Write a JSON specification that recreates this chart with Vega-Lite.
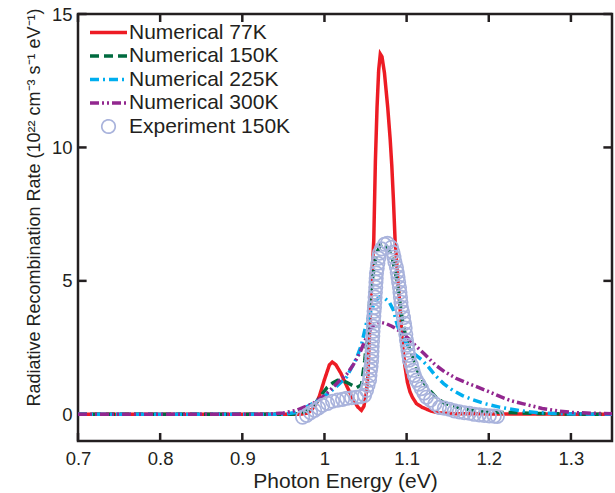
{
 "$schema": "https://vega.github.io/schema/vega-lite/v6.json",
 "width": 534, "height": 427,
 "autosize": {"type": "none"},
 "padding": {"left": 78, "top": 14, "right": 3, "bottom": 52},
 "background": "white",
 "config": {
  "view": {"stroke": "#231f20", "strokeWidth": 2.5},
  "font": "Liberation Sans",
  "axis": {"grid": false, "domain": false, "ticks": false,
   "labelColor": "#231f20", "labelFont": "Liberation Sans", "labelFontSize": 18.5,
   "titleFont": "Liberation Sans", "titleFontSize": 21, "titleFontWeight": "normal", "titleColor": "#231f20"}
 },
 "datasets": {
  "xticks": [{"x":0.7},{"x":0.8},{"x":0.9},{"x":1.0},{"x":1.1},{"x":1.2},{"x":1.3}],
  "yticks": [{"y":0},{"y":5},{"y":10},{"y":15}],
  "lines": [
   {"s":"Numerical 77K","x":0.70,"y":0},{"s":"Numerical 77K","x":0.97,"y":0},{"s":"Numerical 77K","x":0.98,"y":0.05},{"s":"Numerical 77K","x":0.985,"y":0.2},{"s":"Numerical 77K","x":0.99,"y":0.4},{"s":"Numerical 77K","x":0.994,"y":0.7},{"s":"Numerical 77K","x":1.0,"y":1.3},{"s":"Numerical 77K","x":1.006,"y":1.85},{"s":"Numerical 77K","x":1.0095,"y":1.96},{"s":"Numerical 77K","x":1.014,"y":1.85},{"s":"Numerical 77K","x":1.02,"y":1.54},{"s":"Numerical 77K","x":1.025,"y":1.2},{"s":"Numerical 77K","x":1.0305,"y":0.84},{"s":"Numerical 77K","x":1.036,"y":0.5},{"s":"Numerical 77K","x":1.0407,"y":0.27},{"s":"Numerical 77K","x":1.045,"y":0.15},{"s":"Numerical 77K","x":1.048,"y":0.3},{"s":"Numerical 77K","x":1.051,"y":0.8},{"s":"Numerical 77K","x":1.053,"y":1.5},{"s":"Numerical 77K","x":1.056,"y":4.0},{"s":"Numerical 77K","x":1.058,"y":5.3},{"s":"Numerical 77K","x":1.06,"y":6.5},{"s":"Numerical 77K","x":1.061,"y":8.0},{"s":"Numerical 77K","x":1.062,"y":9.5},{"s":"Numerical 77K","x":1.064,"y":11.5},{"s":"Numerical 77K","x":1.066,"y":12.9},{"s":"Numerical 77K","x":1.068,"y":13.5},{"s":"Numerical 77K","x":1.07,"y":13.4},{"s":"Numerical 77K","x":1.073,"y":12.8},{"s":"Numerical 77K","x":1.077,"y":11.5},{"s":"Numerical 77K","x":1.08,"y":10.3},{"s":"Numerical 77K","x":1.082,"y":9.3},{"s":"Numerical 77K","x":1.084,"y":8.0},{"s":"Numerical 77K","x":1.086,"y":6.5},{"s":"Numerical 77K","x":1.089,"y":5.2},{"s":"Numerical 77K","x":1.092,"y":4.0},{"s":"Numerical 77K","x":1.095,"y":2.6},{"s":"Numerical 77K","x":1.098,"y":1.8},{"s":"Numerical 77K","x":1.101,"y":1.2},{"s":"Numerical 77K","x":1.104,"y":0.85},{"s":"Numerical 77K","x":1.107,"y":0.64},{"s":"Numerical 77K","x":1.112,"y":0.4},{"s":"Numerical 77K","x":1.119,"y":0.26},{"s":"Numerical 77K","x":1.13,"y":0.12},{"s":"Numerical 77K","x":1.14,"y":0.05},{"s":"Numerical 77K","x":1.16,"y":0.02},{"s":"Numerical 77K","x":1.35,"y":0},
   {"s":"Numerical 150K","x":0.70,"y":0},{"s":"Numerical 150K","x":0.96,"y":0},{"s":"Numerical 150K","x":0.97,"y":0.03},{"s":"Numerical 150K","x":0.98,"y":0.15},{"s":"Numerical 150K","x":0.99,"y":0.45},{"s":"Numerical 150K","x":0.997,"y":0.75},{"s":"Numerical 150K","x":1.003,"y":1.0},{"s":"Numerical 150K","x":1.01,"y":1.17},{"s":"Numerical 150K","x":1.016,"y":1.27},{"s":"Numerical 150K","x":1.022,"y":1.25},{"s":"Numerical 150K","x":1.027,"y":1.2},{"s":"Numerical 150K","x":1.033,"y":1.1},{"s":"Numerical 150K","x":1.039,"y":1.0},{"s":"Numerical 150K","x":1.045,"y":1.1},{"s":"Numerical 150K","x":1.049,"y":2.0},{"s":"Numerical 150K","x":1.052,"y":2.9},{"s":"Numerical 150K","x":1.055,"y":4.2},{"s":"Numerical 150K","x":1.058,"y":5.0},{"s":"Numerical 150K","x":1.063,"y":6.0},{"s":"Numerical 150K","x":1.068,"y":6.35},{"s":"Numerical 150K","x":1.073,"y":6.4},{"s":"Numerical 150K","x":1.078,"y":6.2},{"s":"Numerical 150K","x":1.083,"y":5.8},{"s":"Numerical 150K","x":1.087,"y":5.2},{"s":"Numerical 150K","x":1.091,"y":4.4},{"s":"Numerical 150K","x":1.095,"y":3.5},{"s":"Numerical 150K","x":1.099,"y":2.9},{"s":"Numerical 150K","x":1.103,"y":2.5},{"s":"Numerical 150K","x":1.107,"y":2.2},{"s":"Numerical 150K","x":1.113,"y":1.65},{"s":"Numerical 150K","x":1.118,"y":1.35},{"s":"Numerical 150K","x":1.124,"y":1.05},{"s":"Numerical 150K","x":1.128,"y":0.9},{"s":"Numerical 150K","x":1.137,"y":0.6},{"s":"Numerical 150K","x":1.146,"y":0.42},{"s":"Numerical 150K","x":1.16,"y":0.28},{"s":"Numerical 150K","x":1.173,"y":0.19},{"s":"Numerical 150K","x":1.19,"y":0.12},{"s":"Numerical 150K","x":1.21,"y":0.08},{"s":"Numerical 150K","x":1.25,"y":0.04},{"s":"Numerical 150K","x":1.3,"y":0.01},{"s":"Numerical 150K","x":1.35,"y":0},
   {"s":"Numerical 225K","x":0.70,"y":0},{"s":"Numerical 225K","x":0.95,"y":0},{"s":"Numerical 225K","x":0.965,"y":0.07},{"s":"Numerical 225K","x":0.978,"y":0.27},{"s":"Numerical 225K","x":0.994,"y":0.55},{"s":"Numerical 225K","x":1.005,"y":0.8},{"s":"Numerical 225K","x":1.015,"y":1.05},{"s":"Numerical 225K","x":1.027,"y":1.4},{"s":"Numerical 225K","x":1.039,"y":2.1},{"s":"Numerical 225K","x":1.045,"y":2.6},{"s":"Numerical 225K","x":1.051,"y":3.4},{"s":"Numerical 225K","x":1.057,"y":3.9},{"s":"Numerical 225K","x":1.062,"y":4.25},{"s":"Numerical 225K","x":1.067,"y":4.4},{"s":"Numerical 225K","x":1.073,"y":4.35},{"s":"Numerical 225K","x":1.079,"y":4.2},{"s":"Numerical 225K","x":1.084,"y":3.9},{"s":"Numerical 225K","x":1.089,"y":3.3},{"s":"Numerical 225K","x":1.095,"y":2.9},{"s":"Numerical 225K","x":1.103,"y":2.5},{"s":"Numerical 225K","x":1.11,"y":2.25},{"s":"Numerical 225K","x":1.118,"y":2.05},{"s":"Numerical 225K","x":1.126,"y":1.8},{"s":"Numerical 225K","x":1.135,"y":1.45},{"s":"Numerical 225K","x":1.145,"y":1.15},{"s":"Numerical 225K","x":1.156,"y":0.9},{"s":"Numerical 225K","x":1.168,"y":0.7},{"s":"Numerical 225K","x":1.18,"y":0.55},{"s":"Numerical 225K","x":1.195,"y":0.4},{"s":"Numerical 225K","x":1.213,"y":0.27},{"s":"Numerical 225K","x":1.237,"y":0.14},{"s":"Numerical 225K","x":1.26,"y":0.06},{"s":"Numerical 225K","x":1.29,"y":0.02},{"s":"Numerical 225K","x":1.35,"y":0},
   {"s":"Numerical 300K","x":0.70,"y":0},{"s":"Numerical 300K","x":0.93,"y":0},{"s":"Numerical 300K","x":0.95,"y":0.05},{"s":"Numerical 300K","x":0.966,"y":0.15},{"s":"Numerical 300K","x":0.986,"y":0.4},{"s":"Numerical 300K","x":1.0,"y":0.7},{"s":"Numerical 300K","x":1.01,"y":1.0},{"s":"Numerical 300K","x":1.018,"y":1.25},{"s":"Numerical 300K","x":1.027,"y":1.5},{"s":"Numerical 300K","x":1.035,"y":1.85},{"s":"Numerical 300K","x":1.043,"y":2.3},{"s":"Numerical 300K","x":1.05,"y":2.8},{"s":"Numerical 300K","x":1.056,"y":3.2},{"s":"Numerical 300K","x":1.062,"y":3.4},{"s":"Numerical 300K","x":1.068,"y":3.45},{"s":"Numerical 300K","x":1.075,"y":3.4},{"s":"Numerical 300K","x":1.082,"y":3.3},{"s":"Numerical 300K","x":1.09,"y":3.15},{"s":"Numerical 300K","x":1.1,"y":2.9},{"s":"Numerical 300K","x":1.11,"y":2.6},{"s":"Numerical 300K","x":1.122,"y":2.25},{"s":"Numerical 300K","x":1.135,"y":1.85},{"s":"Numerical 300K","x":1.146,"y":1.6},{"s":"Numerical 300K","x":1.16,"y":1.35},{"s":"Numerical 300K","x":1.173,"y":1.18},{"s":"Numerical 300K","x":1.188,"y":1.0},{"s":"Numerical 300K","x":1.2,"y":0.85},{"s":"Numerical 300K","x":1.215,"y":0.65},{"s":"Numerical 300K","x":1.228,"y":0.5},{"s":"Numerical 300K","x":1.241,"y":0.4},{"s":"Numerical 300K","x":1.265,"y":0.22},{"s":"Numerical 300K","x":1.285,"y":0.12},{"s":"Numerical 300K","x":1.302,"y":0.07},{"s":"Numerical 300K","x":1.325,"y":0.04},{"s":"Numerical 300K","x":1.35,"y":0.02}
  ],
  "exp": [
   {"s":"Experiment 150K","x":0.9734,"y":-0.11},{"s":"Experiment 150K","x":0.9783,"y":-0.04},{"s":"Experiment 150K","x":0.9831,"y":0.06},{"s":"Experiment 150K","x":0.988,"y":0.15},{"s":"Experiment 150K","x":0.9929,"y":0.24},{"s":"Experiment 150K","x":0.9977,"y":0.34},{"s":"Experiment 150K","x":1.0038,"y":0.41},{"s":"Experiment 150K","x":1.0099,"y":0.49},{"s":"Experiment 150K","x":1.016,"y":0.53},{"s":"Experiment 150K","x":1.022,"y":0.56},{"s":"Experiment 150K","x":1.0269,"y":0.6},{"s":"Experiment 150K","x":1.033,"y":0.62},{"s":"Experiment 150K","x":1.039,"y":0.64},{"s":"Experiment 150K","x":1.0439,"y":0.66},{"s":"Experiment 150K","x":1.0488,"y":0.71},{"s":"Experiment 150K","x":1.0512,"y":0.9},{"s":"Experiment 150K","x":1.053,"y":1.09},{"s":"Experiment 150K","x":1.0548,"y":1.28},{"s":"Experiment 150K","x":1.0554,"y":1.46},{"s":"Experiment 150K","x":1.056,"y":1.65},{"s":"Experiment 150K","x":1.0567,"y":1.8},{"s":"Experiment 150K","x":1.0573,"y":1.99},{"s":"Experiment 150K","x":1.0576,"y":2.18},{"s":"Experiment 150K","x":1.0579,"y":2.36},{"s":"Experiment 150K","x":1.0581,"y":2.55},{"s":"Experiment 150K","x":1.0585,"y":2.74},{"s":"Experiment 150K","x":1.0588,"y":2.93},{"s":"Experiment 150K","x":1.0591,"y":3.11},{"s":"Experiment 150K","x":1.0595,"y":3.3},{"s":"Experiment 150K","x":1.0597,"y":3.49},{"s":"Experiment 150K","x":1.0601,"y":3.68},{"s":"Experiment 150K","x":1.0604,"y":3.86},{"s":"Experiment 150K","x":1.0609,"y":4.01},{"s":"Experiment 150K","x":1.0613,"y":4.2},{"s":"Experiment 150K","x":1.0616,"y":4.39},{"s":"Experiment 150K","x":1.062,"y":4.57},{"s":"Experiment 150K","x":1.0624,"y":4.76},{"s":"Experiment 150K","x":1.0627,"y":4.95},{"s":"Experiment 150K","x":1.063,"y":5.1},{"s":"Experiment 150K","x":1.0633,"y":5.29},{"s":"Experiment 150K","x":1.0642,"y":5.47},{"s":"Experiment 150K","x":1.065,"y":5.66},{"s":"Experiment 150K","x":1.066,"y":5.85},{"s":"Experiment 150K","x":1.067,"y":6.04},{"s":"Experiment 150K","x":1.0694,"y":6.2},{"s":"Experiment 150K","x":1.0731,"y":6.37},{"s":"Experiment 150K","x":1.0767,"y":6.41},{"s":"Experiment 150K","x":1.0816,"y":6.26},{"s":"Experiment 150K","x":1.0834,"y":6.07},{"s":"Experiment 150K","x":1.0846,"y":5.89},{"s":"Experiment 150K","x":1.0858,"y":5.7},{"s":"Experiment 150K","x":1.0876,"y":5.51},{"s":"Experiment 150K","x":1.0886,"y":5.32},{"s":"Experiment 150K","x":1.0895,"y":5.14},{"s":"Experiment 150K","x":1.0903,"y":4.95},{"s":"Experiment 150K","x":1.0913,"y":4.76},{"s":"Experiment 150K","x":1.0919,"y":4.57},{"s":"Experiment 150K","x":1.0925,"y":4.39},{"s":"Experiment 150K","x":1.0931,"y":4.2},{"s":"Experiment 150K","x":1.0937,"y":4.01},{"s":"Experiment 150K","x":1.095,"y":3.83},{"s":"Experiment 150K","x":1.0962,"y":3.62},{"s":"Experiment 150K","x":1.0974,"y":3.41},{"s":"Experiment 150K","x":1.0982,"y":3.23},{"s":"Experiment 150K","x":1.099,"y":3.0},{"s":"Experiment 150K","x":1.0998,"y":2.78},{"s":"Experiment 150K","x":1.1008,"y":2.59},{"s":"Experiment 150K","x":1.1016,"y":2.4},{"s":"Experiment 150K","x":1.1026,"y":2.21},{"s":"Experiment 150K","x":1.1034,"y":2.03},{"s":"Experiment 150K","x":1.1059,"y":1.84},{"s":"Experiment 150K","x":1.1077,"y":1.65},{"s":"Experiment 150K","x":1.1095,"y":1.46},{"s":"Experiment 150K","x":1.112,"y":1.28},{"s":"Experiment 150K","x":1.115,"y":1.13},{"s":"Experiment 150K","x":1.118,"y":0.96},{"s":"Experiment 150K","x":1.1211,"y":0.79},{"s":"Experiment 150K","x":1.1241,"y":0.64},{"s":"Experiment 150K","x":1.129,"y":0.53},{"s":"Experiment 150K","x":1.1344,"y":0.39},{"s":"Experiment 150K","x":1.1399,"y":0.26},{"s":"Experiment 150K","x":1.146,"y":0.23},{"s":"Experiment 150K","x":1.1521,"y":0.19},{"s":"Experiment 150K","x":1.1581,"y":0.13},{"s":"Experiment 150K","x":1.1642,"y":0.09},{"s":"Experiment 150K","x":1.1703,"y":0.06},{"s":"Experiment 150K","x":1.1764,"y":0.04},{"s":"Experiment 150K","x":1.1824,"y":0.0},{"s":"Experiment 150K","x":1.1885,"y":-0.02},{"s":"Experiment 150K","x":1.1946,"y":-0.04},{"s":"Experiment 150K","x":1.2007,"y":-0.06},{"s":"Experiment 150K","x":1.2067,"y":-0.07},{"s":"Experiment 150K","x":1.2104,"y":-0.08}
  ]
 },
 "layer": [
  {
   "data": {"name": "xticks"},
   "mark": {"type": "rule", "color": "#231f20", "strokeWidth": 2.5, "opacity": 1},
   "encoding": {"x": {"field": "x", "type": "quantitative"}, "y": {"datum": -1, "type": "quantitative"}, "y2": {"datum": -0.7}}
  },
  {
   "data": {"name": "xticks"},
   "mark": {"type": "rule", "color": "#231f20", "strokeWidth": 2.5, "opacity": 1},
   "encoding": {"x": {"field": "x", "type": "quantitative"}, "y": {"datum": 15, "type": "quantitative"}, "y2": {"datum": 14.7}}
  },
  {
   "data": {"name": "yticks"},
   "mark": {"type": "rule", "color": "#231f20", "strokeWidth": 2.5, "opacity": 1},
   "encoding": {"y": {"field": "y", "type": "quantitative"}, "x": {"datum": 0.7, "type": "quantitative"}, "x2": {"datum": 0.7105}}
  },
  {
   "data": {"name": "yticks"},
   "mark": {"type": "rule", "color": "#231f20", "strokeWidth": 2.5, "opacity": 1},
   "encoding": {"y": {"field": "y", "type": "quantitative"}, "x": {"datum": 1.35, "type": "quantitative"}, "x2": {"datum": 1.3395}}
  },
  {
   "data": {"name": "lines"},
   "mark": {"type": "line", "strokeWidth": 3.5, "clip": true},
   "encoding": {
    "x": {"field": "x", "type": "quantitative", "scale": {"domain": [0.7, 1.35], "nice": false, "zero": false},
     "axis": {"values": [0.7, 0.8, 0.9, 1, 1.1, 1.2, 1.3], "format": "~g", "title": "Photon Energy (eV)", "labelPadding": 8, "labelFlush": false, "titlePadding": 3}},
    "y": {"field": "y", "type": "quantitative", "scale": {"domain": [-1, 15], "nice": false, "zero": false},
     "axis": {"values": [0, 5, 10, 15], "title": "Radiative Recombination Rate (10²² cm⁻³ s⁻¹ eV⁻¹)", "titleFontSize": 18, "labelPadding": 6, "labelFlush": false, "titleX": -35, "titleY": 193, "titleAngle": 270, "titleBaseline": "bottom", "titleAlign": "center"}},
    "color": {"field": "s", "type": "nominal",
     "scale": {"domain": ["Numerical 77K", "Numerical 150K", "Numerical 225K", "Numerical 300K", "Experiment 150K"], "range": ["#ed1c24", "#006b3f", "#00aeef", "#92278f", "#a9b3dc"]},
     "legend": {"orient": "none", "legendX": 20, "legendY": 8, "padding": 0, "title": null,
      "labelFont": "Liberation Sans", "labelFontSize": 21, "labelColor": "#231f20", "labelOffset": 10, "labelLimit": 400, "rowPadding": 1.5,
      "symbolType": "stroke", "symbolSize": 1369, "symbolStrokeWidth": 3.5,
      "encode": {"symbols": {"update": {
        "shape": {"signal": "datum.value === 'Experiment 150K' ? 'circle' : 'stroke'"},
        "size": {"signal": "datum.value === 'Experiment 150K' ? 180 : 1369"},
        "strokeDash": {"signal": "datum.value === 'Numerical 150K' ? [9,5] : datum.value === 'Numerical 225K' ? [9,4,2,4] : datum.value === 'Numerical 300K' ? [9,3,2,3,2,3] : [1,0]"},
        "strokeWidth": {"signal": "datum.value === 'Experiment 150K' ? 1.7 : 3.5"},
        "fill": {"value": "transparent"},
        "opacity": {"value": 1}
      }}}}},
    "strokeDash": {"field": "s", "type": "nominal",
     "scale": {"domain": ["Numerical 77K", "Numerical 150K", "Numerical 225K", "Numerical 300K"], "range": [[1, 0], [9, 5], [9, 4, 2, 4], [9, 3, 2, 3, 2, 3]]}, "legend": null}
   }
  },
  {
   "data": {"name": "exp"},
   "mark": {"type": "point", "shape": "circle", "filled": false, "size": 180, "strokeWidth": 1.7, "opacity": 1, "clip": true},
   "encoding": {
    "x": {"field": "x", "type": "quantitative"},
    "y": {"field": "y", "type": "quantitative"},
    "color": {"field": "s", "type": "nominal"}
   }
  }
 ]
}
